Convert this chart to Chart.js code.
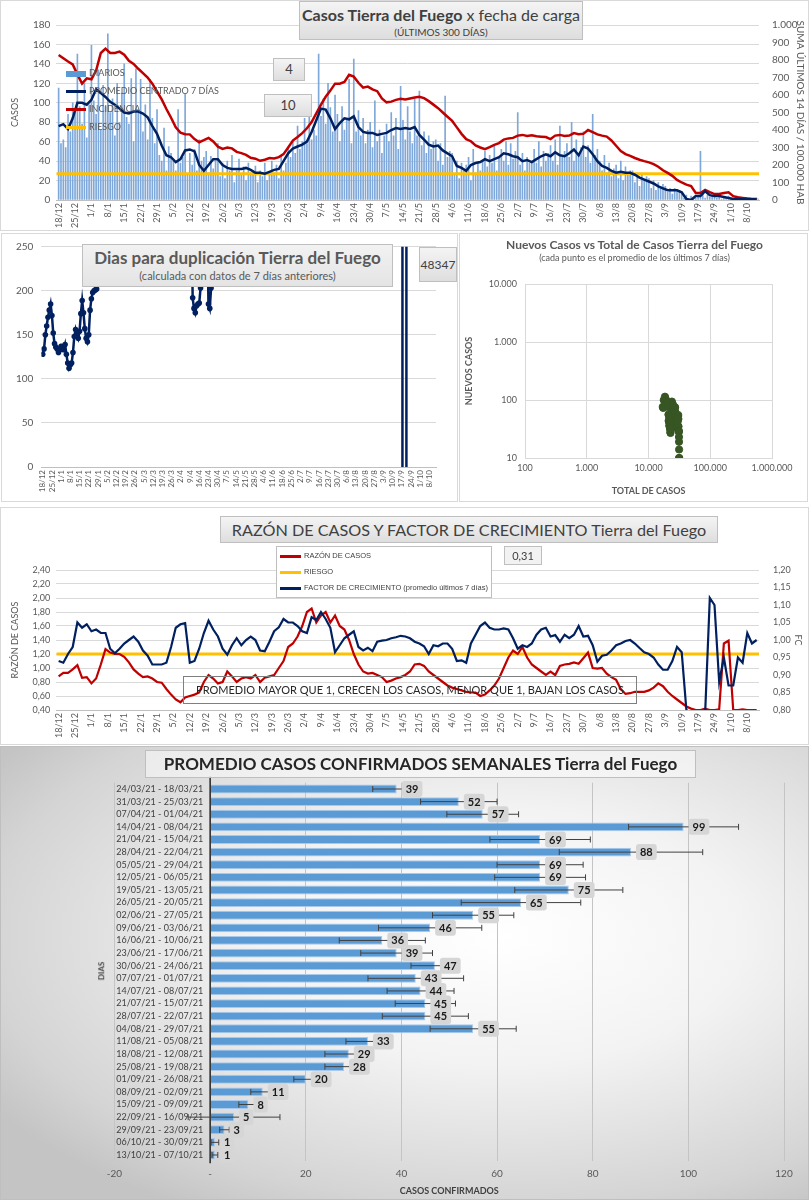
<!DOCTYPE html>
<html lang="es">
<head>
<meta charset="utf-8">
<script src="https://cdn.jsdelivr.net/npm/chart.js@4.4.0/dist/chart.umd.min.js"></script>
<style>
  body { margin: 0; width: 809px; height: 1200px; position: relative; overflow: hidden; background: #fff;
         font-family: Lato, "Liberation Sans", sans-serif; color: #404040; }
  canvas { position: absolute; }
  .frame { position: absolute; box-sizing: border-box; border: 1px solid #d9d9d9; }
  .box { position: absolute; box-sizing: border-box; border: 1px solid #bfbfbf; text-align: center;
         background: linear-gradient(#f4f4f4, #dedede); }
  .txt { position: absolute; white-space: nowrap; }
  .leg { position: absolute; font-size: 9px; color: #595959; white-space: nowrap; }
  .leg i { display: inline-block; width: 20px; height: 3px; vertical-align: middle; margin-right: 3px; }
  .narrow { font-family: "Liberation Sans Narrow", "Liberation Sans", sans-serif; }
</style>
</head>
<body>

<!-- marcos -->
<div class="frame" style="left:0;top:0;width:809px;height:231px"></div>
<div class="frame" style="left:1px;top:233px;width:457px;height:269px"></div>
<div class="frame" style="left:459px;top:233px;width:349px;height:269px"></div>
<div class="frame" style="left:0;top:507px;width:809px;height:238px"></div>
<div class="frame" style="left:0;top:746px;width:809px;height:454px;border-color:#bfbfbf;
  background:radial-gradient(ellipse 75% 70% at 62% 42%, #ffffff 0%, #f3f3f3 40%, #d4d4d4 85%, #c4c4c4 100%)"></div>

<canvas id="c1" width="809" height="230" style="left:0;top:0"></canvas>
<canvas id="c2" width="457" height="268" style="left:0;top:232px"></canvas>
<canvas id="c3" width="349" height="268" style="left:460px;top:232px"></canvas>
<canvas id="c4" width="809" height="240" style="left:0;top:505px"></canvas>
<canvas id="c5" width="809" height="455" style="left:0;top:745px"></canvas>

<!-- textos panel 1 -->
<div class="box" style="left:299px;top:1px;width:284px;height:39px">
  <div style="font-size:16px;margin-top:3px"><b>Casos Tierra del Fuego</b> x fecha de carga</div>
  <div style="font-size:10px;margin-top:2px">(ÚLTIMOS 300 DÍAS)</div>
</div>
<div class="box" style="left:273px;top:58px;width:32px;height:23px;font-size:13px;line-height:21px">4</div>
<div class="box" style="left:264px;top:94px;width:48px;height:23px;font-size:13px;line-height:21px">10</div>
<div class="leg" style="left:66px;top:67px"><i style="background:#5b9bd5;height:6px"></i>DIARIOS</div>
<div class="leg" style="left:66px;top:85px"><i style="background:#002060"></i>PROMEDIO CENTRADO 7 DÍAS</div>
<div class="leg" style="left:66px;top:103px"><i style="background:#c00000"></i>INCIDENCIA</div>
<div class="leg" style="left:66px;top:121px"><i style="background:#ffc000"></i>RIESGO</div>

<!-- textos panel 2 -->
<div class="box" style="left:82px;top:244px;width:311px;height:43px;background:linear-gradient(#f2f2f2,#e4e4e4)">
  <div style="font-size:17px;font-weight:bold;color:#595959;margin-top:2px">Dias para duplicación Tierra del Fuego</div>
  <div style="font-size:11px;color:#595959;margin-top:1px">(calculada con datos de 7 días anteriores)</div>
</div>
<div class="box" style="left:419px;top:247px;width:38px;height:35px;font-size:12px;line-height:33px">48347</div>

<!-- textos panel 3 -->
<div class="txt" style="left:460px;width:349px;top:237px;text-align:center;font-size:12px;font-weight:bold;color:#595959">Nuevos Casos vs Total de Casos Tierra del Fuego</div>
<div class="txt" style="left:460px;width:349px;top:252px;text-align:center;font-size:9px;color:#595959">(cada punto es el promedio de los últimos 7 días)</div>

<!-- textos panel 4 -->
<div class="box" style="left:220px;top:516px;width:498px;height:27px;font-size:16.2px;line-height:25px">RAZÓN DE CASOS Y FACTOR DE CRECIMIENTO Tierra del Fuego</div>
<div class="box" style="left:276px;top:546px;width:216px;height:52px;background:#fff">
  <div class="leg narrow" style="left:3px;top:4px;font-size:7.5px;color:#404040"><i style="background:#c00000;width:21px"></i>RAZÓN DE CASOS</div>
  <div class="leg narrow" style="left:3px;top:20px;font-size:7.5px;color:#404040"><i style="background:#ffc000;width:21px"></i>RIESGO</div>
  <div class="leg narrow" style="left:3px;top:36px;font-size:7.5px;color:#404040"><i style="background:#002060;width:21px"></i>FACTOR DE CRECIMIENTO (promedio últimos 7 días)</div>
</div>
<div class="box" style="left:504px;top:546px;width:38px;height:19px;font-size:11px;line-height:17px;background:#f2f2f2">0,31</div>
<div class="box" style="left:183px;top:676px;width:454px;height:28px;font-size:11px;line-height:26px;background:transparent;border-color:#7f7f7f;color:#262626">PROMEDIO MAYOR QUE 1, CRECEN LOS CASOS, MENOR QUE 1, BAJAN LOS CASOS</div>

<!-- textos panel 5 -->
<div class="box" style="left:145px;top:750px;width:551px;height:28px;font-size:17px;line-height:26px;font-weight:bold;color:#262626;background:rgba(255,255,255,0.5)">PROMEDIO CASOS CONFIRMADOS SEMANALES Tierra del Fuego</div>
<div class="txt" style="left:92px;top:966px;font-size:8px;font-weight:bold;color:#404040;transform:rotate(-90deg)">DIAS</div>

<script>
// ---------------------------
// Datos
// ---------------------------

// etiquetas semanales del eje x (cada 7 días desde 18/12)
const semanas = ["18/12","25/12","1/1","8/1","15/1","22/1","29/1","5/2","12/2","19/2","26/2","5/3","12/3",
  "19/3","26/3","2/4","9/4","16/4","23/4","30/4","7/5","14/5","21/5","28/5","4/6","11/6","18/6","25/6",
  "2/7","9/7","16/7","23/7","30/7","6/8","13/8","20/8","27/8","3/9","10/9","17/9","24/9","1/10","8/10"];

// casos diarios (un valor por día, desde 18/12)
const diarios = [
  115,58,62,54,88,70,100,   92,150,96,78,120,64,98,   159,102,88,134,72,118,96,  171,90,104,66,120,80,110,
  140,85,78,125,60,135,92,  124,70,98,62,124,84,58,   93,46,40,74,30,55,48,      40,30,93,38,44,109,26,
  48,36,52,30,62,40,44,     50,28,45,32,40,58,24,     38,22,40,30,46,18,30,      42,26,34,20,38,28,30,
  35,18,30,24,38,20,28,     40,28,36,22,45,30,38,     55,44,62,48,76,52,60,      84,58,90,62,72,66,150,
  86,104,78,120,95,70,108,  88,60,96,72,82,124,58,    145,70,92,66,84,58,72,     80,54,102,60,72,48,66,
  78,60,90,66,84,52,117,    82,62,96,70,58,104,66,    112,56,70,48,66,52,60,     62,40,58,36,107,44,50,
  48,26,40,22,38,30,36,     44,20,52,28,38,30,40,     50,34,46,38,56,30,44,      52,40,60,36,58,42,50,
  90,36,48,30,44,38,40,     52,38,60,34,50,40,48,     56,40,62,36,76,44,50,      58,44,80,40,62,46,54,
  70,44,56,38,88,46,52,     40,30,46,28,38,24,32,     36,22,40,20,34,26,30,      30,18,28,14,26,20,24,
  22,12,20,10,18,14,16,     14,8,12,6,12,9,10,        6,2,5,1,4,3,2,             4,50,6,2,5,3,4,
  4,2,5,1,3,2,4,            2,1,3,0,2,1,2,            1,2,0,1,2,1
];

// series leídas cada 2 días
const PASO = 2;
const promedio = [
  76,78,73,84,100,100,98,103,114,110, 106,101,98,94,90,89,91,91,89,85,
  76,68,56,46,44,39,42,51,52,50,      36,30,36,42,42,36,33,32,32,32,
  33,31,28,28,27,29,31,32,40,48,      53,55,57,60,70,82,94,93,84,73,
  79,84,83,86,75,70,69,69,67,68,      69,72,74,73,74,73,75,67,62,57,
  55,56,51,48,45,35,33,30,36,38,      39,42,40,42,44,48,47,45,44,40,
  41,39,42,45,47,45,49,46,45,48,      52,46,55,53,47,40,35,33,30,28,
  29,28,28,26,23,21,19,17,14,12,      10,10,10,8,1,0,4,4,9,5,
  4,4,3,2,1,1,1,1,1,1
];
const incidencia = [
  829,810,791,775,718,665,695,690,740,840, 865,840,840,848,830,795,778,750,725,700,
  665,620,575,520,470,415,385,376,375,348, 330,342,355,335,305,292,300,295,275,268,
  258,241,236,224,230,240,237,245,262,300, 340,360,382,410,445,495,545,590,625,665,
  665,675,715,705,670,642,648,632,622,580, 558,562,572,578,574,580,586,590,582,565,
  545,525,500,476,452,415,378,348,336,312, 300,290,302,315,325,345,352,355,368,372,
  366,370,364,362,360,348,368,372,366,368, 382,376,378,400,388,375,368,362,340,310,
  280,262,252,240,230,222,215,205,190,170, 155,138,115,100,88,80,40,40,58,45,
  34,34,40,44,22,16,12,8,5,4
];
const RIESGO_INCIDENCIA = 150;

// días para duplicación (día, valor); null corta la línea
const dupDias = [0,1,2,3,4,5,6,7,8,9,10,11,12,13,14,15,16,17,18,19,20,21,22,23,24,25,26,27,28,29,30,31,32,33,34,35,36,37,38,39,40,41,42,
  113,114,115,116,117,118,119,120,121,122, 125,126,127,128,129,130, 273,274,275,276,277];
const dupValores = [128,134,150,160,170,178,185,172,152,140,136,134,130,133,137,134,133,139,128,118,112,116,118,130,148,156,150,146,154,174,189,175,157,146,142,150,178,191,198,200,201,202,null,
  300,192,180,175,183,185,186,203,300,null, 300,185,180,203,300,null, -48347,48347,48347,48347,-48347];

// nuevos casos vs total (promedio 7 días)
const totalCasos = [17000,17300,17650,18050,18470,18910,19320,19700,20060,20420,20750,21010,21210,21380,21570,21750,
  21890,22050,22200,22330,22460,22580,22690,22810,22950,23140,23360,23610,23940,24300,24620,24940,25260,25550,25820,
  26090,26380,26670,26970,27240,27480,27690,27880,28040,28180,28330,28490,28650,28830,29010,29180,29350,29530,29720,
  29910,30100,30320,30520,30680,30810,30930,31040,31140,31230,31300,31350,31390];
const nuevosCasos = [76,73,100,98,114,106,98,90,91,89,76,56,44,42,52,36,36,42,33,32,33,28,27,31,40,53,57,70,94,84,
  79,83,75,69,67,69,74,74,75,62,55,51,45,33,36,39,40,44,47,44,41,42,47,49,45,52,55,47,35,30,29,28,23,19,14,10,10];
const ticksTotal = [100, 1000, 10000, 100000, 1000000];
const ticksNuevos = [10, 100, 1000, 10000];

// razón de casos y factor de crecimiento (cada 2 días)
const razon = [
  0.88,0.93,0.93,0.98,1.04,0.86,0.87,0.78,0.85,1.05, 1.27,1.22,1.20,1.20,1.16,1.08,0.98,0.92,0.87,0.88,
  0.85,0.80,0.79,0.70,0.62,0.55,0.51,0.58,0.60,0.62, 0.65,0.80,0.90,0.85,0.78,0.80,0.95,0.88,0.80,0.85,
  0.87,0.85,0.90,0.80,0.86,0.88,0.90,1.00,1.10,1.30, 1.35,1.45,1.60,1.80,1.85,1.65,1.75,1.80,1.65,1.75,
  1.60,1.55,1.40,1.20,1.05,0.95,0.92,0.93,0.90,0.87, 0.80,0.82,0.85,0.87,0.90,0.95,1.05,1.06,1.03,0.95,
  0.90,0.85,0.80,0.75,0.72,0.70,0.68,0.66,0.65,0.65, 0.60,0.62,0.68,0.75,0.85,1.00,1.15,1.25,1.20,1.30,
  1.15,1.05,1.00,0.95,0.90,0.95,0.90,1.03,1.05,1.06, 1.08,1.06,1.14,1.22,1.00,0.99,1.00,0.92,0.87,0.83,
  0.70,0.63,0.64,0.66,0.66,0.66,0.68,0.72,0.78,0.74, 0.66,0.60,0.55,0.50,0.45,0.42,0.40,0.40,0.42,0.40,
  0.40,0.41,1.35,1.39,0.40,0.40,0.41,0.40,0.40,0.40
];
const factorCrec = [
  0.94,0.935,0.96,0.98,1.05,1.035,1.045,1.025,1.03,1.02, 1.02,0.975,0.962,0.975,0.99,1.0,1.01,0.995,0.97,0.955,
  0.93,0.93,0.93,0.935,0.98,1.035,1.045,1.048,0.935,0.94, 0.975,1.02,1.055,1.03,1.01,0.975,0.958,0.985,1.005,0.985,
  1.0,1.01,1.0,0.97,0.968,0.995,1.025,1.036,1.06,1.05, 1.05,1.04,1.025,1.02,1.065,1.057,1.08,1.06,1.035,0.965,
  0.985,1.005,1.015,1.025,0.98,0.97,0.978,0.968,0.995,0.998, 1.0,1.005,1.008,1.012,1.01,1.005,0.995,0.99,0.982,0.96,
  0.985,0.982,0.99,0.99,0.975,0.94,0.942,0.935,0.99,1.015, 1.04,1.05,1.035,1.03,1.03,1.033,1.03,1.005,0.975,0.985,
  0.98,0.99,1.015,1.03,1.035,1.01,1.014,0.995,1.015,1.005, 1.015,1.04,1.01,1.012,0.985,0.938,0.955,0.958,0.97,0.985,
  0.99,0.997,1.0,0.99,0.977,0.965,0.96,0.95,0.93,0.915, 0.915,0.94,0.98,0.965,0.8,0.79,0.79,0.79,0.79,1.12,
  1.10,0.88,0.95,0.87,0.87,0.95,0.935,1.02,0.99,1.0
];
const RIESGO_RAZON = 1.2;

// promedio semanal
const semanasCat = ["24/03/21 - 18/03/21","31/03/21 - 25/03/21","07/04/21 - 01/04/21","14/04/21 - 08/04/21",
  "21/04/21 - 15/04/21","28/04/21 - 22/04/21","05/05/21 - 29/04/21","12/05/21 - 06/05/21","19/05/21 - 13/05/21",
  "26/05/21 - 20/05/21","02/06/21 - 27/05/21","09/06/21 - 03/06/21","16/06/21 - 10/06/21","23/06/21 - 17/06/21",
  "30/06/21 - 24/06/21","07/07/21 - 01/07/21","14/07/21 - 08/07/21","21/07/21 - 15/07/21","28/07/21 - 22/07/21",
  "04/08/21 - 29/07/21","11/08/21 - 05/08/21","18/08/21 - 12/08/21","25/08/21 - 19/08/21","01/09/21 - 26/08/21",
  "08/09/21 - 02/09/21","15/09/21 - 09/09/21","22/09/21 - 16/09/21","29/09/21 - 23/09/21","06/10/21 - 30/09/21",
  "13/10/21 - 07/10/21"];
const promedioSemanal = [39,52,57,99,69,88,69,69,75,65,55,46,36,39,47,43,44,45,45,55,33,29,28,20,11,8,5,3,1,1];
const errorSemanal = [5,8,7.5,11.5,10.5,15,9,9.5,11.3,12.5,8.5,10.8,9,7.5,5,10,7,6.3,9,9,4.6,5,4,2.5,2.5,2,9.6,1,0.8,0.6];

// ---------------------------
// Utilidades
// ---------------------------

Chart.defaults.font.family = 'Lato, "Liberation Sans", sans-serif';
Chart.defaults.animation = false;
Chart.defaults.responsive = false;
Chart.defaults.plugins.legend.display = false;
Chart.defaults.plugins.tooltip.enabled = false;

const GRIS = "#595959";
const miles = v => String(Math.round(v)).replace(/\B(?=(\d{3})+(?!\d))/g, ".");
const coma = v => Number(v).toFixed(2).replace(".", ",");
const porPaso = arr => arr.map((v, i) => ({ x: i * PASO, y: v }));

// eje x de días (las etiquetas las dibuja el plugin de abajo)
function ejeDias(alto) {
  return {
    type: "linear", min: -1, max: 299, offset: false,
    grid: { display: false },
    border: { color: "#bfbfbf" },
    afterBuildTicks: s => { s.ticks = semanas.map((_, i) => ({ value: i * 7 })); },
    ticks: { display: false },
    afterFit: s => { s.height = alto; }
  };
}

// etiquetas semanales verticales bajo el eje
function etiquetasSemanas(tam) {
  return {
    id: "etiquetasSemanas",
    afterDraw(chart) {
      const { ctx, chartArea, scales: { x } } = chart;
      ctx.save();
      ctx.font = tam + "px Lato, sans-serif";
      ctx.fillStyle = GRIS;
      ctx.textAlign = "right";
      ctx.textBaseline = "middle";
      semanas.forEach((s, i) => {
        const px = x.getPixelForValue(i * 7);
        ctx.save();
        ctx.translate(px, chartArea.bottom + 3);
        ctx.rotate(-Math.PI / 2);
        ctx.fillText(s, 0, 0);
        ctx.restore();
      });
      ctx.restore();
    }
  };
}

// ---------------------------
// Panel 1: casos diarios
// ---------------------------

new Chart(document.getElementById("c1"), {
  data: {
    datasets: [
      { type: "line", data: [{ x: -1, y: RIESGO_INCIDENCIA }, { x: 299, y: RIESGO_INCIDENCIA }], yAxisID: "y2",
        borderColor: "#ffc000", borderWidth: 3, pointRadius: 0, order: 3 },
      { type: "line", data: porPaso(incidencia), yAxisID: "y2",
        borderColor: "#c00000", borderWidth: 2.5, pointRadius: 0, order: 2 },
      { type: "line", data: porPaso(promedio), yAxisID: "y",
        borderColor: "#002060", borderWidth: 2.5, pointRadius: 0, order: 1 },
      { type: "bar", data: diarios.map((v, i) => ({ x: i, y: v })), yAxisID: "y",
        backgroundColor: "#7fa8da", barThickness: 1, order: 4 }
    ]
  },
  options: {
    layout: { padding: { top: 25 } },
    scales: {
      x: ejeDias(30),
      y: { position: "left", min: 0, max: 180,
           ticks: { stepSize: 20, font: { size: 10 }, color: GRIS, padding: 6 },
           grid: { color: "#d9d9d9", drawTicks: false }, border: { display: false },
           title: { display: true, text: "CASOS", font: { size: 9 }, color: GRIS, padding: { top: 10, bottom: 0 } },
           afterFit: s => { s.width = 56.3; } },
      y2: { position: "right", min: 0, max: 1000,
            ticks: { stepSize: 100, font: { size: 10 }, color: GRIS, callback: miles, padding: 5 },
            grid: { display: false }, border: { display: false },
            title: { display: true, text: "SUMA ÚLTIMOS 14 DÍAS / 100.000 HAB", font: { size: 10 }, color: GRIS, padding: { top: 3, bottom: 0 } },
            afterFit: s => { s.width = 50; } }
    }
  },
  plugins: [etiquetasSemanas(9)]
});

// ---------------------------
// Panel 2: días para duplicación
// ---------------------------

new Chart(document.getElementById("c2"), {
  type: "line",
  data: {
    datasets: [{ data: dupDias.map((d, i) => ({ x: d, y: dupValores[i] })),
      borderColor: "#002060", backgroundColor: "#002060", borderWidth: 2.5,
      pointRadius: 2.8, pointBorderWidth: 0, spanGaps: false }]
  },
  options: {
    layout: { padding: { top: 14.7, right: 21 } },
    scales: {
      x: ejeDias(33),
      y: { min: 0, max: 250, ticks: { stepSize: 50, font: { size: 10 }, color: GRIS, padding: 8 },
           grid: { color: "#d9d9d9", drawTicks: false }, border: { display: false },
           afterFit: s => { s.width = 41.4; } }
    }
  },
  plugins: [etiquetasSemanas(8)]
});

// ---------------------------
// Panel 3: nuevos vs total (log-log)
// ---------------------------

new Chart(document.getElementById("c3"), {
  type: "scatter",
  data: {
    datasets: [{ data: totalCasos.map((t, i) => ({ x: t, y: nuevosCasos[i] })),
      backgroundColor: "#375623", borderColor: "#375623", pointRadius: 3.6 }]
  },
  options: {
    layout: { padding: { top: 52, right: 37 } },
    scales: {
      x: { type: "logarithmic", min: 100, max: 1000000,
           afterBuildTicks: s => { s.ticks = ticksTotal.map(v => ({ value: v })); },
           ticks: { callback: miles, font: { size: 9 }, color: GRIS, padding: 5 },
           grid: { color: "#d9d9d9", drawTicks: false }, border: { color: "#d9d9d9" },
           title: { display: true, text: "TOTAL DE CASOS", font: { size: 9, weight: "bold" }, color: GRIS, padding: { top: 4 } },
           afterFit: s => { s.height = 42; } },
      y: { type: "logarithmic", min: 10, max: 10000,
           afterBuildTicks: s => { s.ticks = ticksNuevos.map(v => ({ value: v })); },
           ticks: { callback: miles, font: { size: 9 }, color: GRIS, padding: 8 },
           grid: { color: "#d9d9d9", drawTicks: false }, border: { color: "#d9d9d9" },
           title: { display: true, text: "NUEVOS CASOS", font: { size: 9, weight: "bold" }, color: GRIS },
           afterFit: s => { s.width = 65; } }
    }
  }
});

// ---------------------------
// Panel 4: razón de casos y factor de crecimiento
// ---------------------------

new Chart(document.getElementById("c4"), {
  type: "line",
  data: {
    datasets: [
      { data: [{ x: -1, y: RIESGO_RAZON }, { x: 299, y: RIESGO_RAZON }], yAxisID: "y",
        borderColor: "#ffc000", borderWidth: 3, pointRadius: 0, order: 3 },
      { data: porPaso(razon), yAxisID: "y", borderColor: "#c00000", borderWidth: 2.2, pointRadius: 0, order: 2 },
      { data: porPaso(factorCrec), yAxisID: "y2", borderColor: "#002060", borderWidth: 2.2, pointRadius: 0, order: 1 }
    ]
  },
  options: {
    layout: { padding: { top: 65 } },
    scales: {
      x: ejeDias(35),
      y: { position: "left", min: 0.4, max: 2.4,
           ticks: { stepSize: 0.2, font: { size: 9 }, color: GRIS, callback: coma, padding: 6 },
           grid: { color: "#d9d9d9", drawTicks: false }, border: { display: false },
           title: { display: true, text: "RAZÓN DE CASOS", font: { size: 9 }, color: GRIS, padding: { top: 10, bottom: 0 } },
           afterFit: s => { s.width = 56.3; } },
      y2: { position: "right", min: 0.8, max: 1.2,
            ticks: { stepSize: 0.05, font: { size: 9 }, color: GRIS, callback: coma, padding: 6 },
            grid: { display: false }, border: { display: false },
            title: { display: true, text: "FC", font: { size: 9 }, color: GRIS, padding: { top: 6, bottom: 0 } },
            afterFit: s => { s.width = 50; } }
    }
  },
  plugins: [etiquetasSemanas(9)]
});

// ---------------------------
// Panel 5: promedio semanal con barras de error
// ---------------------------

const detallesSemanal = {
  id: "detallesSemanal",
  afterDatasetsDraw(chart) {
    const { ctx, chartArea, scales: { x, y } } = chart;
    const x0 = x.getPixelForValue(0);
    ctx.save();
    // eje vertical en cero
    ctx.strokeStyle = "#262626"; ctx.lineWidth = 1.5;
    ctx.beginPath(); ctx.moveTo(x0, chartArea.top - 6); ctx.lineTo(x0, chartArea.bottom + 2); ctx.stroke();
    // etiquetas de categoría
    ctx.font = '9px "Liberation Sans Narrow", Lato, sans-serif';
    ctx.fillStyle = "#404040"; ctx.textAlign = "right"; ctx.textBaseline = "middle";
    semanasCat.forEach((c, i) => ctx.fillText(c, x0 - 7, y.getPixelForValue(i)));
    // barras de error
    ctx.strokeStyle = "#404040"; ctx.lineWidth = 1;
    chart.getDatasetMeta(0).data.forEach((bar, i) => {
      const a = x.getPixelForValue(promedioSemanal[i] - errorSemanal[i]);
      const b = x.getPixelForValue(promedioSemanal[i] + errorSemanal[i]);
      ctx.beginPath();
      ctx.moveTo(a, bar.y); ctx.lineTo(b, bar.y);
      ctx.moveTo(a, bar.y - 3); ctx.lineTo(a, bar.y + 3);
      ctx.moveTo(b, bar.y - 3); ctx.lineTo(b, bar.y + 3);
      ctx.stroke();
    });
    // etiquetas de valor
    ctx.font = "bold 11px Lato, sans-serif"; ctx.textAlign = "center";
    chart.getDatasetMeta(0).data.forEach((bar, i) => {
      const t = String(Math.round(promedioSemanal[i]));
      const w = ctx.measureText(t).width + 8, h = 16, bx = bar.x + 5;
      ctx.fillStyle = "#d6d6d6";
      ctx.beginPath(); ctx.roundRect(bx, bar.y - h / 2, w, h, 3); ctx.fill();
      ctx.fillStyle = "#1a1a1a";
      ctx.fillText(t, bx + w / 2, bar.y + 0.5);
    });
    ctx.restore();
  }
};

new Chart(document.getElementById("c5"), {
  type: "bar",
  data: {
    labels: semanasCat,
    datasets: [{ data: promedioSemanal, backgroundColor: "#5b9bd5", borderColor: "#a9c9ec", borderWidth: 1,
                 barPercentage: 0.7, categoryPercentage: 1 }]
  },
  options: {
    indexAxis: "y",
    layout: { padding: { left: 114.5, right: 25, top: 37.7 } },
    scales: {
      x: { min: -20, max: 120,
           ticks: { stepSize: 20, font: { size: 10 }, color: GRIS, padding: 6, callback: v => (v === 0 ? "-" : v) },
           grid: { color: "#c4c4c4", drawTicks: false }, border: { display: false },
           title: { display: true, text: "CASOS CONFIRMADOS", font: { size: 9, weight: "bold" }, color: "#404040", padding: { top: 4 } },
           afterFit: s => { s.height = 38.7; } },
      y: { display: false }
    }
  },
  plugins: [detallesSemanal]
});
</script>
</body>
</html>
